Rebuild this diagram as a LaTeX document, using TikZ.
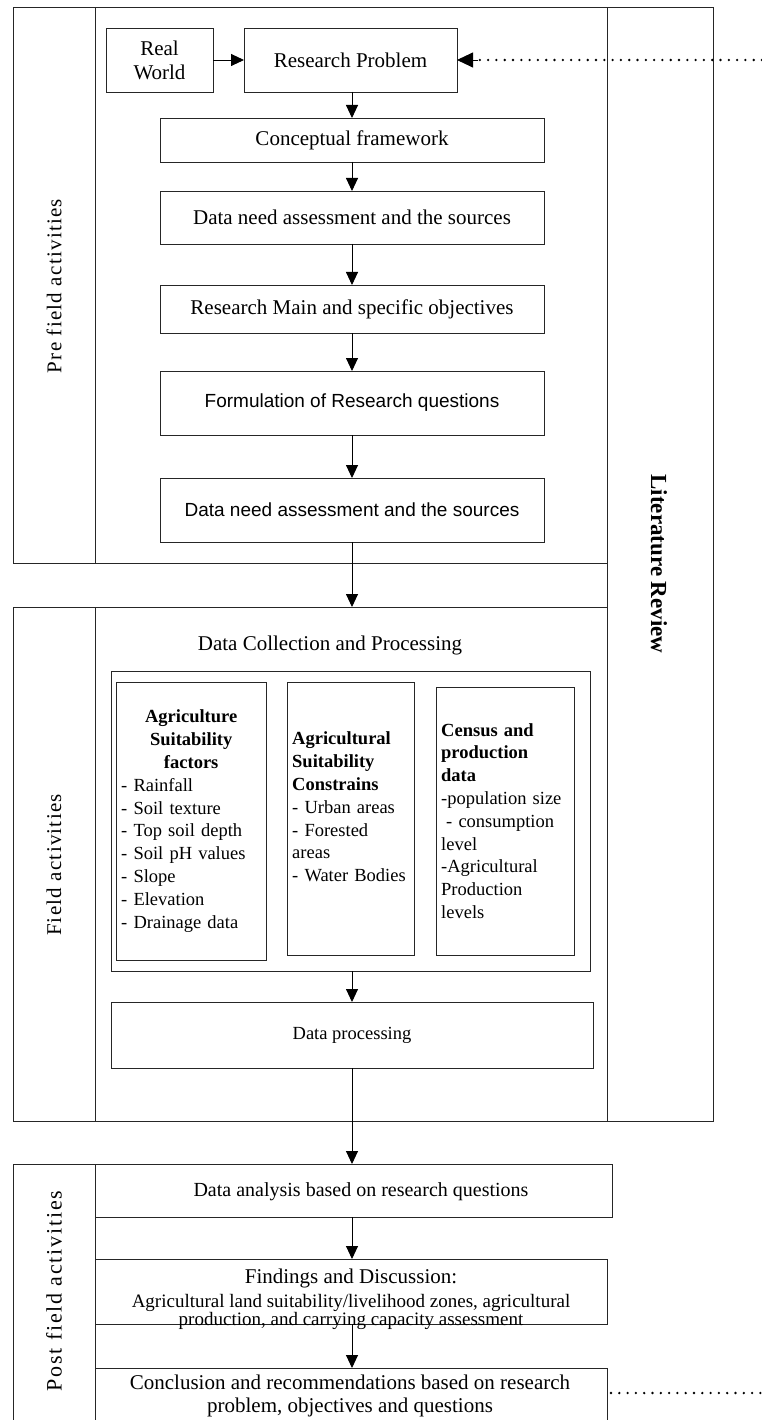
\documentclass[tikz,border=0pt]{standalone}
\usepackage{fontspec}
\setmainfont{Liberation Serif}
\newfontfamily\boxsans{Liberation Sans}
\newfontfamily\sidefont[LetterSpace=6]{Liberation Serif}
\newfontfamily\postfont[LetterSpace=8]{Liberation Serif}
\usetikzlibrary{arrows.meta}

\begin{document}
\begin{tikzpicture}[x=1pt,y=-1pt,
  frame/.style={draw=black!85, line width=0.9pt, outer sep=0pt, inner sep=0pt},
  stepbox/.style={frame, fill=white},
  txt/.style={inner sep=0pt, font=\fontsize{21}{24}\selectfont},
  sanstxt/.style={inner sep=0pt, font=\boxsans\fontsize{19}{22}\selectfont},
  listtxt/.style={inner sep=0pt, font=\fontsize{18.5}{22.8}\selectfont},
  sidelabel/.style={inner sep=0pt, font=\sidefont\fontsize{21}{24}\selectfont},
  arr/.style={line width=0.9pt, -{Triangle[width=12pt,length=13pt]}},
  bigarr/.style={line width=0.9pt, -{Triangle[width=15pt,length=16pt]}},
  dots/.style={line width=2.6pt, line cap=round, dash pattern=on 0pt off 8.3pt},
]
\clip (0,0) rectangle (762,1420);
\fill[white] (0,0) rectangle (762,1420);

% ---- side frames ----
\node[frame, minimum width=594pt, minimum height=556pt] (pre) at (310,285) {};
\node[frame, minimum width=82pt, minimum height=556pt] (precol) at (54,285) {};
\node[frame, minimum width=106pt, minimum height=1114pt] (lit) at (660,564) {};
\node[frame, minimum width=594pt, minimum height=514pt] (field) at (310,864) {};
\node[frame, minimum width=82pt, minimum height=514pt] (fieldcol) at (54,864) {};
\node[frame, minimum width=82pt, minimum height=281pt] (postcol) at (54,1304.5) {};

\node[sidelabel, rotate=90] (prelab) at (54,286) {Pre field activities};
\node[sidelabel, rotate=90] (fieldlab) at (54,865) {Field activities};
\node[inner sep=0pt, rotate=90, font=\postfont\fontsize{22}{24}\selectfont] (postlab) at (54,1291) {Post field activities};
\node[inner sep=0pt, rotate=-90, font=\bfseries\fontsize{23}{26}\selectfont] (litlab) at (659,564) {Literature Review};

% ---- pre field activities ----
\node[stepbox, txt, align=center, minimum width=107pt, minimum height=64pt] (rw) at (159.5,60) {Real\\World};
\node[stepbox, txt, minimum width=213pt, minimum height=64pt] (rp) at (350.5,60) {Research Problem};
\node[stepbox, txt, minimum width=384pt, minimum height=44pt] (cf) at (352,140) {Conceptual framework};
\node[stepbox, txt, minimum width=384pt, minimum height=53pt] (dn1) at (352,217.5) {Data need assessment and the sources};
\node[stepbox, txt, minimum width=384pt, minimum height=48pt] (rm) at (352,309) {Research Main and specific objectives};
\node[stepbox, sanstxt, minimum width=384pt, minimum height=64pt] (fq) at (352,403) {Formulation of Research questions};
\node[stepbox, sanstxt, minimum width=384pt, minimum height=64pt] (dn2) at (352,510) {Data need assessment and the sources};

\coordinate (litin) at (762,60);
\coordinate (litend) at (478,60);
\draw[arr] (rw.east) -- (rp.west);
\draw[dots] (litin) -- (litend);
\draw[bigarr] (litend) -- (rp.east);
\draw[arr] (rp.south -| cf.north) -- (cf.north);
\draw[arr] (cf.south) -- (dn1.north);
\draw[arr] (dn1.south) -- (rm.north);
\draw[arr] (rm.south) -- (fq.north);
\draw[arr] (fq.south) -- (dn2.north);
\draw[arr] (dn2.south) -- (dn2.south |- field.north);

% ---- field activities ----
\node[txt] (dct) at (330,645) {Data Collection and Processing};
\node[frame, minimum width=479pt, minimum height=300pt] (dbox) at (350.5,821) {};
\node[frame, minimum width=150pt, minimum height=278pt] (b1) at (191,821) {};
\node[frame, minimum width=127pt, minimum height=273pt] (b2) at (350.5,818.5) {};
\node[frame, minimum width=138pt, minimum height=268pt] (b3) at (505,821) {};

\node[listtxt, text width=140pt, anchor=west] (t1) at (121,821)
  {{\centering\bfseries Agriculture\\ Suitability\\ factors\par}
   \raggedright - Rainfall\\ - Soil texture\\ - Top soil depth\\ - Soil pH values\\
   - Slope\\ - Elevation\\ - Drainage data\par};
\node[listtxt, text width=122pt, anchor=west, align=left] (t2) at (292,807)
  {\textbf{Agricultural}\\ \textbf{Suitability}\\ \textbf{Constrains}\\ - Urban areas\\
   - Forested\\ areas\\ - Water Bodies};
\node[listtxt, text width=132pt, anchor=west, align=left] (t3) at (441,821)
  {\textbf{Census and}\\ \textbf{production}\\ \textbf{data}\\ -population size\\
   \hspace*{5pt}- consumption\\ level\\ -Agricultural\\ Production\\ levels};

\node[stepbox, inner sep=0pt, font=\fontsize{18.5}{22}\selectfont, minimum width=482pt, minimum height=66pt] (dp) at (352,1035) {Data processing};

\draw[arr] (dp.north |- dbox.south) -- (dp.north);

% ---- post field activities ----
\node[stepbox, minimum width=517pt, minimum height=53pt] (da) at (353.5,1190.5) {};
\node[inner sep=0pt, font=\fontsize{20}{24}\selectfont] (dat) at (361,1192) {Data analysis based on research questions};
\node[stepbox, minimum width=512pt, minimum height=65pt] (fd) at (351,1291.5) {};
\node[txt] (fdt) at (351,1278) {Findings and Discussion:};
\node[inner sep=0pt, align=center, font=\fontsize{19}{16}\selectfont] (fdd) at (351,1312)
  {Agricultural land suitability/livelihood zones, agricultural\\ production, and carrying capacity assessment};
\node[stepbox, minimum width=512pt, minimum height=78pt] (cn) at (351,1407) {};
\node[inner sep=0pt, align=center, font=\fontsize{21}{23}\selectfont] (cnt) at (350,1396)
  {Conclusion and recommendations based on research\\ problem, objectives and questions};
\coordinate (litout) at (762,1393);
\draw[dots] ([yshift=14pt,xshift=4pt]cn.east) -- (litout);

\draw[arr] (dp.south) -- (dp.south |- da.north);
\draw[arr] (dp.south |- da.south) -- (dp.south |- fd.north);
\draw[arr] (dp.south |- fd.south) -- (dp.south |- cn.north);
\end{tikzpicture}
\end{document}
